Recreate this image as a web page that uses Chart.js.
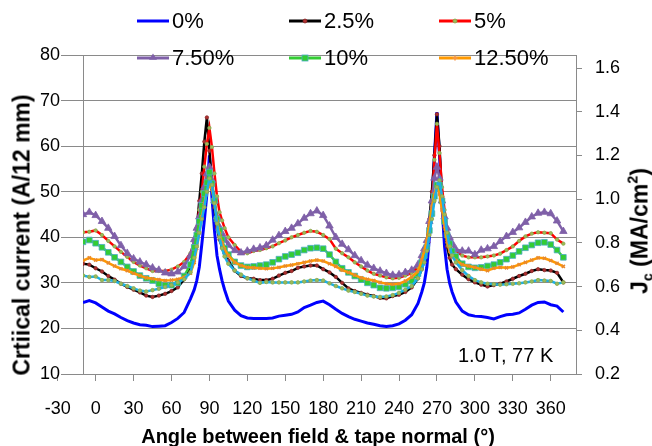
<!DOCTYPE html>
<html>
<head>
<meta charset="utf-8">
<script src="https://cdn.jsdelivr.net/npm/chart.js@4.4.1/dist/chart.umd.min.js"></script>
<style>
  html, body { margin: 0; padding: 0; background: #fff; }
  #wrap { position: relative; width: 652px; height: 446px; background: #fff; overflow: hidden;
          font-family: "Liberation Sans", Arial, sans-serif; color: #000; }
  #c { position: absolute; left: 0; top: 0; }
  .leg { position: absolute; height: 24px; display: flex; align-items: center; white-space: nowrap; font-size: 22px; line-height: 24px; }
  .leg svg { display: block; margin-right: 2px; }
  .ttl { position: absolute; white-space: nowrap; font-weight: bold; transform-origin: center center; }
  .ttl sub, .ttl sup { font-size: 0.62em; line-height: 0; }
  .ttl sub { vertical-align: -0.35em; }
  .ttl sup { vertical-align: 0.7em; }
</style>
</head>
<body>
<div id="wrap">
  <canvas id="c" width="652" height="446"></canvas>
  <div id="legend"></div>
  <div class="ttl" id="ytitle" style="left:22px;top:235px;font-size:23px;transform:translate(-50%,-50%) rotate(-90deg);">Crtiical current (A/12 mm)</div>
  <div class="ttl" id="xtitle" style="left:318px;top:436px;font-size:20px;transform:translate(-50%,-50%);">Angle between field &amp; tape normal (°)</div>
  <div class="ttl" id="y2title" style="left:640px;top:231px;font-size:23px;transform:translate(-50%,-50%) rotate(-90deg);">J<sub>c</sub> (MA/cm<sup>2</sup>)</div>
  <div id="note" style="position:absolute;left:458px;top:343px;font-size:20px;line-height:24px;white-space:nowrap;">1.0 T, 77 K</div>
</div>
<script>
// ---------- data ----------
const angles = [-10,-5,0,5,10,15,20,25,30,35,40,45,50,55,60,65,70,75,
  78,80,82,84,86,88,90,92,94,96,98,100,102,
  105,110,115,120,125,130,135,140,145,150,155,160,165,170,175,180,185,190,195,200,205,210,215,220,225,230,235,240,245,250,255,
  258,260,262,264,266,268,270,272,274,276,278,280,282,
  285,290,295,300,305,310,315,320,325,330,335,340,345,350,355,360,365,370];

const s0 = [25.7,26.1,25.6,24.7,23.8,23.2,22.4,21.7,21.2,20.8,20.7,20.4,20.5,20.6,21.3,22.2,23.5,26.5,
  28.5,30.5,33.5,38.5,43.7,49.5,58,48.8,41.5,36,33,30.5,28.5,
  26,24,22.8,22.3,22.2,22.2,22.2,22.3,22.7,22.9,23.1,23.6,24.6,25.1,25.7,26,25.2,24.2,23.3,22.6,22,21.6,21.2,20.9,20.6,20.4,20.6,21,21.8,23,25.5,
  28,30,33.4,40,47,58,67.5,58,47,38,33,30,28,
  25.8,23.8,23,22.7,22.6,22.4,22.1,22.6,23,23.1,23.4,24.2,25.1,25.7,25.8,25.2,24.9,23.6];

const s25 = [34.2,34,33.2,32.5,31.5,30.7,29.8,29.1,28.5,27.9,27.2,26.9,27.2,27.6,28.2,29,30.8,33.5,
  37,42,48,54,61,66.3,59,52,46.5,42.2,39.5,37.8,36.5,
  34.9,32.7,31.5,31,30.9,30.6,30.6,30.9,31.6,32.2,32.6,33.3,33.6,33.8,33.8,33,32.3,31.3,30,28.8,28.2,27.8,27.4,27.1,26.7,26.6,27.1,27.4,28,29,31,
  33,35,39,44,50,58,67,60,49,42,38,35.5,34,
  33,31.8,30.8,30.1,29.6,29.2,29.5,29.8,30.3,30.9,31.5,32,32.6,33,32.8,32.7,32.2,30.1];

const s5 = [41.1,41.2,41.5,40.5,39.2,38,36.8,35.7,34.6,33.8,33.2,32.6,32.6,32.6,32.9,33.6,34.6,36.5,
  39,42,46,50,55.5,60.5,64,59.8,54,49,45.5,43.7,42,
  40,38.3,36.8,36.5,37,37.2,37.6,38,38.7,39.3,40,40.5,41,41.4,41.2,40.5,39.6,37.5,36.5,35.6,34.5,33.6,32.7,32,31.6,31.2,31,31.1,31.6,32.2,33.4,
  35,36,39,42,47,57,64.9,58.5,51,46,42,40,38.5,
  37,36,35.6,35.6,35.6,35.8,36,36.4,37.2,38,39.2,40.2,40.8,41.1,41,40.9,39.5,38.6];

const s75 = [45,45.5,44.8,43.5,42,40.2,38.2,36.5,35.3,34.6,34,33.3,32.8,32.2,32,32.4,33.6,36,
  39.5,42,44.5,48,51,54,55.4,52.5,48,44.5,42.2,40.8,39.5,
  38.3,37.1,36.6,37,37.4,37.7,38.2,39.4,40.4,41.3,42,43,44.2,45.2,45.8,44.8,42.5,40,38.5,37.3,36,34.9,33.9,33.2,32.6,32.1,31.7,31.8,32.3,32.8,34,
  36,37.5,39.3,43.5,48,53,55.4,53,48,44.5,42,40,38.7,
  37.3,37,37,36.2,37.2,37.5,38,39.1,40.2,41.1,42.1,43.3,44.5,45.3,45.5,45.2,43.6,41.3];

const s10 = [39,39.4,38.7,37.8,36.7,35.6,34.6,33.5,32.5,31.6,31,30.5,29.8,29.5,29.5,30,31.5,34,
  37.8,40.5,43.5,47,49.6,52,54.3,51.8,48,44,41.5,39.5,37.6,
  36.2,34.6,33.8,33.5,33.6,33.8,34,34.5,35.2,35.8,36.2,36.6,37.2,37.6,37.7,37.5,36.2,34.6,33.2,32.3,31.5,30.7,30,29.5,28.9,28.8,28.9,29.1,29.7,30.4,32,
  34.5,36,37.8,41.5,45.2,49,51.5,51.5,48,43.5,40.5,38.6,37,
  35.8,34.2,33.5,33.3,33.4,33.7,34,34.5,35.2,36,36.9,37.7,38.3,38.8,38.9,38.4,37.2,35.6];

const s125 = [34.9,35.5,35,35.1,34.4,33.7,33.1,32.7,32.1,31.6,31.1,30.9,30.7,30.5,30.6,30.8,31.2,32.1,
  34.5,37.6,41,44.5,47.4,50,51.5,50.5,47.5,43.5,40.8,38.8,37.4,
  36,34.5,33.8,33.4,33.3,33.2,33.1,33.2,33.4,33.7,33.9,34.2,34.5,34.8,35,34.8,34.2,33.6,32.8,32.3,31.7,31.1,30.8,30.5,30.1,29.8,29.7,29.8,30.4,31.3,32.5,
  35,37,39.3,43,46.6,49.5,51,49.5,46,42.5,39,37,35.8,
  34.9,34,33.7,33.4,33,32.7,33.2,33.4,33.3,33.5,34,34.5,35,35.5,35.4,34.9,34.3,33.6];

const s15 = [31.6,31.3,31.4,30.6,30.6,30.4,29.8,29.3,28.8,28.3,28.1,28.4,28.7,29.1,29.5,30.1,30.8,32.3,
  35.5,38,41,44,46.6,50,52.9,51.5,47.5,43,40,37.6,35.8,
  34.2,32.7,31.8,31,30.5,30,30.2,30.1,30.1,30.1,30.1,30.1,30.3,30.5,30.6,30.5,29.9,29.3,28.8,28.3,28,27.6,27.2,27,26.9,27,27.3,27.8,28.5,29.3,31,
  33,34.5,37,40.5,44,48,51,52.5,49,45,41,38,36,
  34.5,32.8,31.5,30.6,30.1,29.8,29.7,29.6,29.7,29.8,29.9,30.1,30.3,30.6,30.5,30.4,29.8,30.1];

const seriesNames = ['0%','2.5%','5%','7.50%','10%','12.50%',''];
const xTickValues = [-30,0,30,60,90,120,150,180,210,240,270,300,330,360];
const yTickValues = [10,20,30,40,50,60,70,80];
const jcTickValues = [0.2,0.4,0.6,0.8,1.0,1.2,1.4,1.6];

// ---------- styles ----------
const styles = [
  {color:'#0000ff', width:3,   point:false, pstyle:'circle', r:0,   pfill:'#0000ff', pborder:'#0000ff'},
  {color:'#000000', width:2.5, point:true,  pstyle:'circle', r:1.7, pfill:'#b03030', pborder:'#8a2a2a'},
  {color:'#ff0000', width:2.5, point:true,  pstyle:'circle', r:1.7, pfill:'#9bbb59', pborder:'#8aa84c'},
  {color:'#7f60a8', width:2.5, point:true,  pstyle:'triangle', r:4.3, pfill:'#7f60a8', pborder:'#7f60a8'},
  {color:'#33cc33', width:2.5, point:true,  pstyle:'rect', r:4.0, pfill:'#33cc33', pborder:'#4bacc6'},
  {color:'#ff9900', width:2.5, point:true,  pstyle:'crossRot', r:2.2, pfill:'#f79646', pborder:'#e8892e'},
  {color:'#1cb0e6', width:2.5, point:true,  pstyle:'circle', r:1.8, pfill:'#9bbb59', pborder:'#8aa84c'}
];
const allSeries = [s0, s25, s5, s75, s10, s125, s15];

const datasets = allSeries.map((vals, i) => {
  const st = styles[i];
  return {
    label: seriesNames[i],
    data: angles.map((a, k) => ({x: a, y: vals[k]})),
    borderColor: st.color,
    backgroundColor: st.color,
    borderWidth: st.width,
    pointRadius: st.r,
    pointHoverRadius: st.r,
    pointStyle: st.pstyle,
    pointBackgroundColor: st.pfill,
    pointBorderColor: st.pborder,
    pointBorderWidth: st.pstyle === 'crossRot' ? 1.5 : 0.8,
    tension: 0,
    fill: false,
    order: allSeries.length - i
  };
});

// ---------- chart ----------
Chart.defaults.font.family = '"Liberation Sans", Arial, sans-serif';
Chart.defaults.color = '#000';
const GRID = '#8a8a8a';

new Chart(document.getElementById('c'), {
  type: 'line',
  data: { datasets },
  options: {
    responsive: false,
    devicePixelRatio: 1,
    animation: false,
    layout: { padding: { top: 55, left: 0, right: 0, bottom: 0 } },
    plugins: { legend: { display: false }, tooltip: { enabled: false } },
    scales: {
      x: {
        type: 'linear', position: 'bottom', min: -10, max: 380,
        afterBuildTicks: s => { s.ticks = xTickValues.map(v => ({value: v})); },
        afterFit: s => { s.height = 72; },
        ticks: { autoSkip: false, maxRotation: 0, minRotation: 0, padding: 17, font: {size: 18}, color: '#000',
                 callback: v => String(v) },
        grid: { drawOnChartArea: false, drawTicks: true, tickLength: 7, color: GRID, lineWidth: 1 },
        border: { color: GRID, width: 1 }
      },
      y: {
        type: 'linear', position: 'left', min: 10, max: 80,
        afterBuildTicks: s => { s.ticks = yTickValues.map(v => ({value: v})); },
        afterFit: s => { s.width = 83; },
        ticks: { padding: 1, font: {size: 18}, color: '#000' },
        grid: { color: GRID, lineWidth: 1, tickLength: 22 },
        border: { color: GRID, width: 1 }
      },
      y1: {
        type: 'linear', position: 'right', min: 0.2, max: 1.66,
        afterBuildTicks: s => { s.ticks = jcTickValues.map(v => ({value: v})); },
        afterFit: s => { s.width = 76; },
        ticks: { padding: 13, font: {size: 18}, color: '#000', callback: v => Number(v).toFixed(1) },
        grid: { drawOnChartArea: false, drawTicks: true, tickLength: 6, color: GRID, lineWidth: 1 },
        border: { color: GRID, width: 1 }
      }
    }
  }
});

// ---------- legend (HTML) ----------
const legCols = [137, 289, 439];
const legRows = [21, 58];
const legend = document.getElementById('legend');
function markerSvg(i) {
  const st = styles[i];
  let m = '';
  if (i === 1 || i === 2) m = `<circle cx="16" cy="12" r="2" fill="${st.pfill}" stroke="${st.pborder}" stroke-width="0.8"/>`;
  if (i === 3) m = `<polygon points="16,7.5 20,13.8 12,13.8" fill="${st.pfill}"/>`;
  if (i === 4) m = `<rect x="13" y="9" width="6" height="6" fill="${st.pfill}" stroke="${st.pborder}" stroke-width="0.8"/>`;
  if (i === 5) m = `<path d="M16 9.5 V14.5 M13.5 12 H18.5" stroke="${st.pfill}" stroke-width="1.5"/>`;
  return `<svg width="33" height="24" viewBox="0 0 33 24"><line x1="0" y1="12" x2="32" y2="12" stroke="${st.color}" stroke-width="${i===0?3:3}"/>${m}</svg>`;
}
for (let i = 0; i < 6; i++) {
  const d = document.createElement('div');
  d.className = 'leg';
  d.style.left = legCols[i % 3] + 'px';
  d.style.top = (legRows[Math.floor(i / 3)] - 12) + 'px';
  d.innerHTML = markerSvg(i) + '<span>' + seriesNames[i] + '</span>';
  legend.appendChild(d);
}
</script>
</body>
</html>
